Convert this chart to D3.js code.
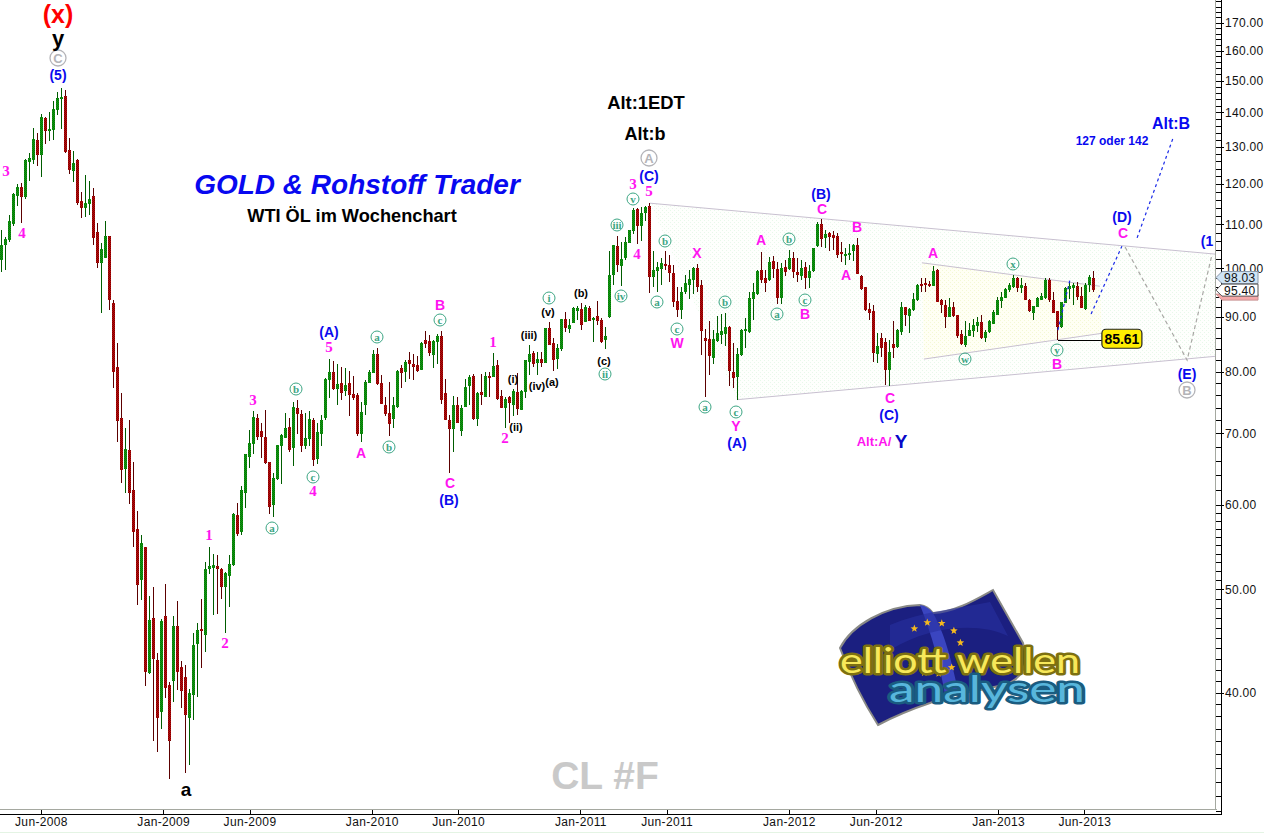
<!DOCTYPE html>
<html><head><meta charset="utf-8">
<script src="https://cdn.jsdelivr.net/npm/d3@7/dist/d3.min.js"></script>
<style>html,body{margin:0;padding:0;background:#fff;overflow:hidden}svg{display:block}text{white-space:pre}</style>
</head><body><div id="chart"></div>
<script>
// weekly candles of CL #F, first week 24 Mar 2008
const firstWeek = "2008-03-24";
const highs = [108.6,107.0,112.2,117.6,119.9,120.2,126.7,128.3,135.4,134.0,139.6,138.7,140.2,143.6,146.4,147.6,147.0,132.5,128.9,126.7,117.9,122.3,120.7,118.9,110.3,105.6,110.8,107.2,93.4,85.1,76.4,70.8,72.1,65.8,59.2,56.2,54.8,49.3,50.2,43.6,46.9,50.6,40.9,47.2,48.8,42.8,42.5,40.3,45.5,46.5,49.0,53.0,54.8,54.0,53.8,52.3,51.9,53.8,58.9,60.2,62.5,66.9,70.5,73.5,73.0,71.6,73.6,65.8,64.3,68.3,69.9,73.2,72.4,75.0,75.3,73.6,73.2,73.5,72.4,71.6,72.8,78.9,82.2,81.9,81.3,80.8,80.6,80.1,79.3,76.4,75.0,78.6,80.3,83.8,84.2,79.4,75.8,78.2,75.8,80.3,81.2,82.0,83.4,83.1,82.7,85.3,87.3,86.6,85.7,86.8,87.3,78.8,72.8,75.9,75.8,74.4,78.8,79.4,79.6,76.6,79.6,79.9,79.9,83.3,82.0,76.9,75.8,75.9,77.1,79.8,76.9,82.0,84.7,83.6,83.4,83.4,87.9,89.1,86.1,84.9,89.7,91.0,89.7,92.0,92.2,92.8,92.4,92.2,90.1,93.2,89.9,88.1,103.8,105.1,107.2,105.8,107.0,108.6,113.9,113.9,114.2,114.4,115.1,103.8,101.4,102.2,103.8,102.9,100.7,96.0,96.0,98.5,99.6,100.3,100.9,97.5,87.7,89.2,87.5,90.3,90.7,90.8,88.3,85.1,84.2,87.7,89.9,95.0,96.8,99.6,103.6,99.6,102.5,102.7,101.4,101.2,101.8,104.0,103.6,102.2,101.8,101.4,100.7,104.5,110.5,111.2,108.6,108.1,108.3,107.9,105.8,104.5,105.4,105.4,106.8,98.5,96.0,92.8,92.4,86.9,86.9,86.1,85.7,89.3,87.7,93.0,92.0,91.8,94.8,96.6,97.9,97.9,97.3,100.5,99.8,93.6,93.4,93.8,93.0,90.4,87.5,89.2,88.9,89.7,90.1,90.4,87.5,89.5,91.4,94.0,95.0,95.8,96.8,98.5,98.1,97.9,96.8,93.6,92.2,94.0,94.8,97.9,97.9,95.0,91.2,93.0,96.0,97.1,96.8,97.1,96.0,96.8,98.5,99.4];
const lows = [99.2,99.6,105.8,109.6,114.4,110.3,116.1,120.7,125.3,124.8,121.8,130.8,131.7,132.0,139.3,135.1,128.3,122.6,120.5,114.6,111.5,111.7,112.2,105.1,100.0,90.8,102.2,91.4,77.2,68.7,62.9,61.5,60.1,54.8,48.3,48.9,40.6,41.6,36.0,35.2,37.0,39.5,33.2,39.2,40.2,38.7,33.6,34.2,37.7,39.6,42.2,43.7,51.7,47.3,47.4,49.0,45.5,48.1,52.6,56.1,56.2,59.6,65.0,66.9,69.0,66.4,65.5,58.8,58.5,63.3,62.8,69.3,67.2,65.3,69.9,67.2,67.7,68.1,65.2,65.5,68.1,72.1,75.6,76.9,74.4,75.3,75.9,72.7,75.3,69.6,68.7,72.8,78.1,79.8,77.8,74.6,72.7,69.6,70.8,73.9,77.2,78.2,78.8,78.6,79.9,80.3,84.2,82.7,80.6,81.3,74.6,72.1,64.3,67.3,71.6,69.6,74.1,74.4,72.1,71.1,74.4,75.8,75.8,79.1,75.3,73.9,70.8,71.6,72.7,72.8,73.6,75.6,79.4,80.8,79.4,80.8,81.5,84.7,80.1,80.5,83.6,87.1,86.9,88.9,89.5,87.5,89.1,89.3,85.3,88.5,85.1,84.0,89.9,96.4,99.2,96.2,101.8,105.6,107.7,105.4,106.1,110.8,94.8,96.0,95.0,96.4,99.6,97.1,92.0,90.1,89.7,94.6,93.6,94.6,95.0,82.9,75.8,79.4,81.3,85.3,84.9,84.5,77.6,77.2,75.3,82.7,84.2,86.9,89.5,94.4,96.8,95.0,97.3,97.9,92.6,92.6,98.3,99.6,97.9,97.1,97.5,95.6,95.8,99.2,104.7,104.7,104.5,103.8,104.0,102.2,101.4,100.7,101.8,101.6,98.7,95.4,91.2,89.5,81.7,81.5,82.6,77.8,77.6,82.4,84.2,86.5,88.3,86.9,91.2,93.2,95.0,95.0,96.0,96.2,93.0,90.8,87.9,90.1,90.1,86.1,84.7,84.4,86.4,86.3,87.1,85.9,85.3,86.9,88.7,90.4,91.8,93.8,95.0,95.8,95.0,94.8,93.4,91.0,89.5,92.0,93.4,93.6,93.0,90.8,85.61,87.9,92.8,93.6,92.4,93.4,91.8,91.4,95.0,95.0];
const opens = [101.8,105.1,106.3,110.0,116.9,119.2,116.6,125.9,126.4,132.0,127.7,138.4,134.5,134.8,140.8,144.2,145.1,129.1,123.4,126.4,115.6,113.9,114.9,116.9,108.1,101.2,102.3,107.2,92.8,80.8,72.4,64.8,67.6,62.0,56.9,51.0,54.8,41.7,47.0,42.9,38.4,47.2,40.7,41.0,46.2,42.3,41.4,37.9,39.8,44.4,45.9,45.3,52.2,52.3,52.6,52.2,50.2,51.5,52.7,58.7,56.6,61.6,66.5,68.4,72.4,70.3,69.5,65.8,60.0,63.4,68.1,69.3,71.0,67.9,73.9,73.0,68.1,69.1,72.1,66.2,69.9,72.4,78.6,79.9,77.1,78.1,76.7,78.1,76.3,76.1,69.9,74.4,78.1,79.8,83.1,78.1,74.4,73.2,72.2,74.1,80.6,79.9,82.0,81.3,81.2,80.3,85.7,85.5,82.9,85.3,86.4,76.4,72.1,70.7,74.4,70.3,74.1,77.6,79.3,72.2,76.6,75.8,79.3,79.1,81.2,75.9,73.9,75.8,74.4,76.6,73.6,76.6,81.7,83.3,81.5,82.2,81.5,87.9,85.1,82.2,84.0,89.7,87.7,88.9,91.2,91.6,89.1,91.8,89.5,90.2,89.5,85.7,90.1,98.5,104.9,100.4,102.2,105.6,108.3,113.7,109.6,112.6,114.4,98.1,99.4,99.8,101.0,100.7,99.0,93.2,91.4,95.0,96.4,97.5,100.0,96.4,86.1,85.9,82.4,85.5,86.5,86.8,88.1,79.9,79.1,82.9,87.3,87.1,93.6,94.6,99.6,97.9,97.5,101.6,99.8,93.8,100.3,99.8,102.2,99.2,98.3,100.3,97.9,99.4,104.9,110.0,106.8,107.9,107.4,107.2,103.6,102.7,102.9,103.8,105.1,98.3,96.0,91.6,91.2,83.1,86.1,85.3,80.3,84.9,84.4,87.1,92.0,90.3,91.4,93.4,96.6,96.8,96.6,96.2,99.6,93.4,92.4,90.1,92.0,90.4,86.8,84.7,86.4,87.3,88.3,89.1,86.1,87.1,88.7,90.4,93.2,93.8,95.4,96.0,97.9,95.8,96.2,93.4,90.8,92.0,93.4,93.8,97.5,93.4,91.2,88.1,92.8,95.6,95.8,96.2,94.2,91.6,96.4,98.03];
const closes = [105.1,106.5,110.8,117.3,119.2,116.6,126.4,126.9,132.2,127.7,138.7,134.5,135.1,141.1,144.5,144.8,128.6,123.7,125.6,115.1,113.9,115.1,116.1,106.8,101.2,104.2,107.2,93.4,79.9,71.9,64.7,67.7,61.5,56.6,50.5,55.2,41.8,46.8,43.0,37.9,46.7,40.4,36.0,46.2,41.8,40.1,38.1,40.0,44.3,45.8,45.7,52.2,52.6,52.7,52.2,50.3,51.8,52.8,58.8,56.4,61.9,66.9,68.6,72.5,69.5,69.5,65.7,59.7,63.6,68.3,69.8,70.8,67.6,74.1,73.0,68.1,69.3,72.2,66.1,70.2,72.1,78.8,79.9,77.1,77.9,76.4,77.7,76.1,75.6,69.9,73.3,78.2,79.9,83.1,77.9,74.6,73.0,71.4,74.4,80.1,79.8,81.7,81.3,80.8,80.1,85.1,84.9,83.3,85.5,86.4,75.3,72.1,70.7,74.4,71.6,73.9,77.4,79.1,72.2,76.4,76.1,79.3,78.9,81.0,75.4,73.9,75.4,74.8,76.7,73.8,76.7,82.0,83.1,81.3,82.2,81.5,87.9,84.7,82.0,84.2,89.7,87.9,88.5,91.8,91.8,88.5,92.0,89.3,89.9,89.3,85.3,86.4,98.5,105.1,100.7,102.0,105.8,108.6,113.4,109.6,112.6,114.2,98.1,99.6,100.3,101.2,100.5,99.0,93.0,91.4,95.0,96.8,97.7,100.0,96.0,87.3,85.5,82.7,85.9,86.9,87.3,88.1,80.1,78.9,83.1,87.5,87.7,93.8,95.0,99.4,97.5,96.8,101.4,99.8,93.8,100.0,99.2,102.2,99.2,98.5,100.0,97.9,99.4,104.5,110.0,106.6,107.7,107.0,106.8,102.9,103.1,103.1,103.3,105.1,98.7,95.6,91.4,90.8,83.3,84.5,84.2,80.3,83.4,84.2,87.5,92.0,90.4,91.6,93.6,96.4,96.3,96.5,96.4,99.4,93.0,92.4,90.1,92.0,90.3,86.4,84.9,86.4,87.5,88.5,89.1,86.1,87.1,89.3,91.0,93.4,94.0,95.6,96.4,97.9,95.8,96.4,93.4,91.2,92.2,93.8,94.2,97.5,93.4,90.8,88.1,93.0,95.8,96.2,96.4,94.0,91.8,96.4,98.1,95.40];

const priceMajor = [170,160,150,140,130,120,110,100,90,80,70,60,50,40];
const monthTicks = ["2008-06-01","2009-01-01","2009-06-01","2010-01-01","2010-06-01","2011-01-01","2011-06-01","2012-01-01","2012-06-01","2013-01-01","2013-06-01"];
const monthLabels = ["Jun-2008","Jan-2009","Jun-2009","Jan-2010","Jun-2010","Jan-2011","Jun-2011","Jan-2012","Jun-2012","Jan-2013","Jun-2013"];

// trend lines and projections as [week number, price]
const outerTop = [[162.1,115.1],[303.6,103.1]];
const outerBottom = [[183.9,75.3],[303.6,82.7]];
const innerTop = [[230.1,101.2],[274.6,96.2]];
const innerBottom = [[230.6,82.2],[275.1,86.9]];
const blueDashes = [[[264.1,87.5],[267.1,97.5]],[[272.4,90.6],[280.1,104.9]],[[283.9,106.8],[292.9,132.5]]];
const grayDashes = [[[280.9,104.7],[296.4,82.0],[302.6,102.9]]];
const supportPrice = 85.61, supportWeek = 264, supportEndWeek = 275.1;
const lastClose = 95.40, lastOpen = 98.03;

// wave labels: [text, centre x, centre y]
const magentaLetters = [["B",440,305],["C",450,483],["A",361,453],["X",697,253],["W",677,343],["Y",736,426],["A",761,240],["C",822,209],["B",857,227],["A",846,275],["B",805,314],["C",890,398],["A",933,253],["B",1057,364],["C",1123,233]];
const magentaDigits = [["3",6,171],["4",22,233],["1",209,535],["2",225,643],["3",253,400],["4",313,491],["5",329,347],["1",493,342],["2",505,438],["3",633,184],["4",637,254],["5",649,191]];
const blueWaves = [["(5)",58,75],["(A)",329,332],["(B)",449,500],["(C)",649,176],["(A)",737,443],["(B)",821,194],["(C)",889,415],["(D)",1122,217],["(E)",1187,374],["(1",1207,241]];
const blackSmall = [["(i)",513,379],["(ii)",516,427],["(iii)",529,335],["(iv)",537,386],["(a)",552,382],["(v)",548,312],["(b)",581,293],["(c)",604,361]];
const greenCircled = [["a",272,528],["b",296,389],["c",313,477],["a",377,337],["b",389,447],["c",440,320],["i",549,298],["iii",617,225],["iv",621,296],["ii",605,374],["v",633,199],["a",657,302],["b",665,241],["c",677,329],["a",705,407],["b",725,302],["c",736,412],["a",777,314],["b",789,239],["c",805,300],["x",1013,264],["w",965,359],["y",1057,350]];
const grayCircled = [["C",58,58],["A",649,158],["B",1187,390]];

const W = 1264, H = 833, plotR = 1216, plotB = 809, axisR = 1221, axisB = 814;
const t0 = new Date(firstWeek + "T00:00:00Z");
const weekDate = w => new Date(+t0 + w * 6048e5);
const x = d3.scaleUtc().domain([t0, weekDate(303.625)]).range([1.5, plotR]);
const y = d3.scaleLog().domain([31.11, 178.5]).range([plotB, 0]);

const svg = d3.select("#chart").append("svg").attr("width", W).attr("height", H).attr("viewBox", `0 0 ${W} ${H}`);
const sans = "'Liberation Sans',Arial,sans-serif", serif = "'Liberation Serif','Times New Roman',serif";
const defs = svg.append("defs");
function dither(id, bg, fg) {
  const p = defs.append("pattern").attr("id", id).attr("width", 4).attr("height", 4).attr("patternUnits", "userSpaceOnUse");
  p.append("rect").attr("width", 4).attr("height", 4).attr("fill", bg);
  [[0,0],[2,2]].forEach(c => p.append("rect").attr("x", c[0]).attr("y", c[1]).attr("width", 1).attr("height", 1).attr("fill", fg));
}
dither("outerFill", "#fefffd", "#e8f8ea");
dither("innerFill", "#fffff4", "#f3f8d4");
function bodyPat(id, a, b) {
  const p = defs.append("pattern").attr("id", id).attr("width", 2).attr("height", 2).attr("patternUnits", "userSpaceOnUse");
  p.append("rect").attr("width", 2).attr("height", 2).attr("fill", a);
  [[0,0],[1,1]].forEach(c => p.append("rect").attr("x", c[0]).attr("y", c[1]).attr("width", 1).attr("height", 1).attr("fill", b));
}
bodyPat("upBody", "#0ea50e", "#0a6c0a");
bodyPat("downBody", "#c00808", "#7a0404");

const pt = d => [x(weekDate(d[0])), y(d[1])];
const lineGen = d3.line().x(d => pt(d)[0]).y(d => pt(d)[1]);

// triangle shading
svg.append("path").attr("d", lineGen([outerTop[0], outerTop[1], outerBottom[1], outerBottom[0]]) + "Z").attr("fill", "url(#outerFill)");
svg.append("path").attr("d", lineGen([innerTop[0], innerTop[1], innerBottom[1], innerBottom[0]]) + "Z").attr("fill", "url(#innerFill)");

// trend lines
[outerTop, outerBottom, innerTop, innerBottom].forEach(l =>
  svg.append("path").attr("d", lineGen(l)).attr("fill", "none").attr("stroke", "#c8c0d0").attr("stroke-width", 1));

// candles
const candles = d3.range(opens.length).map(i => ({i, o: opens[i], h: highs[i], l: lows[i], c: closes[i]}));
const cg = svg.append("g").attr("shape-rendering", "crispEdges");
const cx = d => Math.round(x(weekDate(d.i)) - 1.5);
cg.selectAll("rect.wick").data(candles).join("rect").attr("class", "wick")
  .attr("x", d => cx(d) + 1).attr("width", 1)
  .attr("y", d => y(d.h)).attr("height", d => Math.max(1, y(d.l) - y(d.h)))
  .attr("fill", d => d.c >= d.o ? "#005c00" : "#5c0000");
cg.selectAll("rect.body").data(candles).join("rect").attr("class", "body")
  .attr("x", cx).attr("width", 3)
  .attr("y", d => y(Math.max(d.o, d.c))).attr("height", d => Math.max(1.5, Math.abs(y(d.o) - y(d.c))))
  .attr("fill", d => d.c >= d.o ? "url(#upBody)" : "url(#downBody)");

// projections
blueDashes.forEach(l => svg.append("path").attr("d", lineGen(l)).attr("fill", "none").attr("stroke", "#1a2ae8").attr("stroke-width", 1.2).attr("stroke-dasharray", "3 3"));
grayDashes.forEach(l => svg.append("path").attr("d", lineGen(l)).attr("fill", "none").attr("stroke", "#a8a8a4").attr("stroke-width", 1.2).attr("stroke-dasharray", "4 3"));

// support line + yellow box
const sy = y(supportPrice);
svg.append("line").attr("x1", pt([supportWeek, supportPrice])[0]).attr("x2", pt([supportEndWeek, supportPrice])[0]).attr("y1", sy).attr("y2", sy).attr("stroke", "#000").attr("stroke-width", 1).attr("shape-rendering", "crispEdges");
const bx = pt([supportEndWeek, supportPrice])[0];
svg.append("rect").attr("x", bx).attr("y", sy - 11).attr("width", 40).attr("height", 19).attr("rx", 4).attr("fill", "#ffee00").attr("stroke", "#222").attr("stroke-width", 1.2);
svg.append("text").attr("x", bx + 20).attr("y", sy - 1.5).attr("text-anchor", "middle").attr("dominant-baseline", "central").style("font", `bold 14px ${sans}`).attr("fill", "#000").text(supportPrice.toFixed(2));

// axes frames
const frame = svg.append("g").attr("shape-rendering", "crispEdges");
frame.append("line").attr("x1", 0).attr("x2", plotR + .5).attr("y1", plotB + .5).attr("y2", plotB + .5).attr("stroke", "#a5a8a0");
frame.append("line").attr("x1", plotR - .5).attr("x2", plotR - .5).attr("y1", 0).attr("y2", plotB + 1).attr("stroke", "#a5a8a0");
frame.append("line").attr("x1", 0).attr("x2", axisR + 1).attr("y1", axisB + .5).attr("y2", axisB + .5).attr("stroke", "#000");

// bottom axis
const xAxis = d3.axisBottom(x).tickValues(monthTicks.map(s => new Date(s + "T00:00:00Z"))).tickSize(5).tickPadding(3)
  .tickFormat((d, i) => monthLabels[i]);
const gx = svg.append("g").attr("transform", `translate(0,${plotB + .5})`).attr("shape-rendering", "crispEdges").call(xAxis);
gx.select(".domain").remove();
gx.selectAll("text").style("font", `12px ${sans}`).style("letter-spacing", ".35px").attr("fill", "#111").attr("y", 8);

// right axis
const minor = d3.range(31, 60).concat(d3.range(62, 180, 2)).filter(v => y(v) > 0);
const yAxisMinor = d3.axisRight(y).tickValues(minor).tickSize(5).tickFormat("");
const gy = svg.append("g").attr("transform", `translate(${plotR},0)`).attr("shape-rendering", "crispEdges");
gy.call(yAxisMinor);
gy.select(".domain").remove();
const yAxis = d3.axisRight(y).tickValues(priceMajor).tickSize(9).tickPadding(0).tickFormat(d => d.toFixed(2));
const gy2 = svg.append("g").attr("transform", `translate(${plotR - 1},0)`).attr("shape-rendering", "crispEdges").call(yAxis);
gy2.select(".domain").remove();
gy2.selectAll("text").style("font", `12px ${sans}`).style("letter-spacing", ".3px").attr("fill", "#111").attr("x", 10);
frame.append("line").attr("x1", axisR + .5).attr("x2", axisR + .5).attr("y1", 0).attr("y2", axisB + 1).attr("stroke", "#000");
frame.raise();

// price tags
function tag(price, fill, stroke) {
  const c = y(price);
  svg.append("path").attr("d", `M${plotR},${c} l6,-6 h36 v12 h-36 Z`).attr("fill", fill).attr("stroke", stroke);
  svg.append("text").attr("x", plotR + 8).attr("y", c + .5).attr("dominant-baseline", "central").style("font", `12px ${sans}`).style("letter-spacing", ".3px").attr("fill", "#111").text(price.toFixed(2));
}
svg.append("path").attr("d", `M${plotR},${y(lastClose) + 4} l6,6 h36 v-6 Z`).attr("fill", "#f5a8a8").attr("stroke", "#c89090");
tag(lastOpen, "#cfe4f5", "#8a98a8");
tag(lastClose, "#ffffff", "#555");

// labels
function labels(rows, font, fill) {
  svg.append("g").selectAll("text").data(rows).join("text")
    .attr("x", d => d[1]).attr("y", d => d[2]).attr("text-anchor", "middle").attr("dominant-baseline", "central")
    .style("font", font).attr("fill", fill).text(d => d[0]);
}
labels(magentaLetters, `bold 14px ${sans}`, "#ff14f0");
labels(magentaDigits, `bold 15px ${serif}`, "#ff14f0");
labels(blueWaves, `bold 14px ${sans}`, "#0a0aee");
labels(blackSmall, `bold 11px ${sans}`, "#000");

function circled(rows, r, col, font, sw) {
  const g = svg.append("g").selectAll("g").data(rows).join("g").attr("transform", d => `translate(${d[1]},${d[2]})`);
  g.append("circle").attr("r", r).attr("fill", "none").attr("stroke", col).attr("stroke-width", sw);
  g.append("text").attr("text-anchor", "middle").attr("dominant-baseline", "central").style("font", font).attr("fill", col).text(d => d[0]);
}
circled(greenCircled, 6, "#3da684", `bold 11px ${serif}`, 1);
circled(grayCircled, 8, "#b4b4b8", `bold 13px ${sans}`, 1.3);

// headings
const heads = [
  ["GOLD & Rohstoff Trader", 357, 184, `italic bold 28px ${sans}`, "#0808f0"],
  ["WTI ÖL im Wochenchart", 352, 216, `bold 18.2px ${sans}`, "#000"],
  ["Alt:1EDT", 646, 102, `bold 18.4px ${sans}`, "#000"],
  ["Alt:b", 645, 134, `bold 18px ${sans}`, "#000"],
  ["(x)", 58, 14, `bold 25px ${sans}`, "#ff0000"],
  ["y", 58, 38, `bold 22px ${sans}`, "#000"],
  ["a", 186, 789, `bold 19px ${sans}`, "#000"],
  ["Alt:A/", 874, 441, `bold 13px ${sans}`, "#ff14f0"],
  ["Y", 901, 441, `bold 19px ${sans}`, "#0808c8"],
  ["Alt:B", 1171, 123, `bold 16px ${sans}`, "#0808f0"],
  ["127 oder 142", 1112, 141, `bold 12px ${sans}`, "#0808f0"],
  ["CL #F", 605, 775, `bold 39px ${sans}`, "#c9c9c9"]
];
svg.append("g").selectAll("text").data(heads).join("text")
  .attr("x", d => d[1]).attr("y", d => d[2]).attr("text-anchor", "middle").attr("dominant-baseline", "central")
  .style("font", d => d[3]).attr("fill", d => d[4]).text(d => d[0]);

// logo
const logo = svg.append("g");
logo.append("path").attr("d", "M840,648 C852,625 885,606 920,605 C926,606 930,609 933,613 C955,612 975,600 993,590 L1023,643 C1030,665 1022,680 1003,685 C975,692 950,694 930,703 C915,708 895,716 878,725 C862,700 850,675 840,648 Z")
  .attr("fill", "#1b1f80").attr("stroke", "#8a8a86").attr("stroke-width", 2);
logo.append("path").attr("d", "M920,605 C926,606 930,609 933,613 C945,635 950,655 958,690 L945,695 C940,665 932,635 920,605 Z").attr("fill", "#3a45c0");
logo.append("path").attr("d", "M890,625 C920,612 960,608 990,602 L1008,636 C980,622 930,625 890,650 Z").attr("fill", "#2830a0").attr("opacity", .6);
d3.range(10).forEach(k => {
  const a = (k / 12) * 2 * Math.PI - 2.3, cxs = 933 + 28 * Math.cos(a), cys = 648 + 26 * Math.sin(a);
  const star = d3.range(10).map(j => { const r = j % 2 ? 1.7 : 4, b = j * Math.PI / 5 - Math.PI / 2; return [cxs + r * Math.cos(b), cys + r * Math.sin(b)]; });
  logo.append("path").attr("d", d3.line()(star) + "Z").attr("fill", "#f5b91e");
});
const logoFont = "'Lato','Noto Sans',sans-serif";
logo.append("text").attr("x", 960).attr("y", 673).attr("text-anchor", "middle").attr("textLength", 240).attr("lengthAdjust", "spacingAndGlyphs")
  .style("font", `400 34px ${logoFont}`).attr("fill", "#f7e85a").attr("stroke", "#7d7010").attr("stroke-width", 5).attr("stroke-linejoin", "round").style("paint-order", "stroke").text("elliott wellen");
logo.append("text").attr("x", 987).attr("y", 702).attr("text-anchor", "middle").attr("textLength", 196).attr("lengthAdjust", "spacingAndGlyphs")
  .style("font", `400 36px ${logoFont}`).attr("fill", "#58b6dc").attr("stroke", "#1a5c80").attr("stroke-width", 5).attr("stroke-linejoin", "round").style("paint-order", "stroke").text("analysen");

// dithered strip along the bottom edge
svg.append("rect").attr("x", 0).attr("y", H - 1).attr("width", W).attr("height", 1).attr("fill", "#e4f4e4");
</script></body></html>
